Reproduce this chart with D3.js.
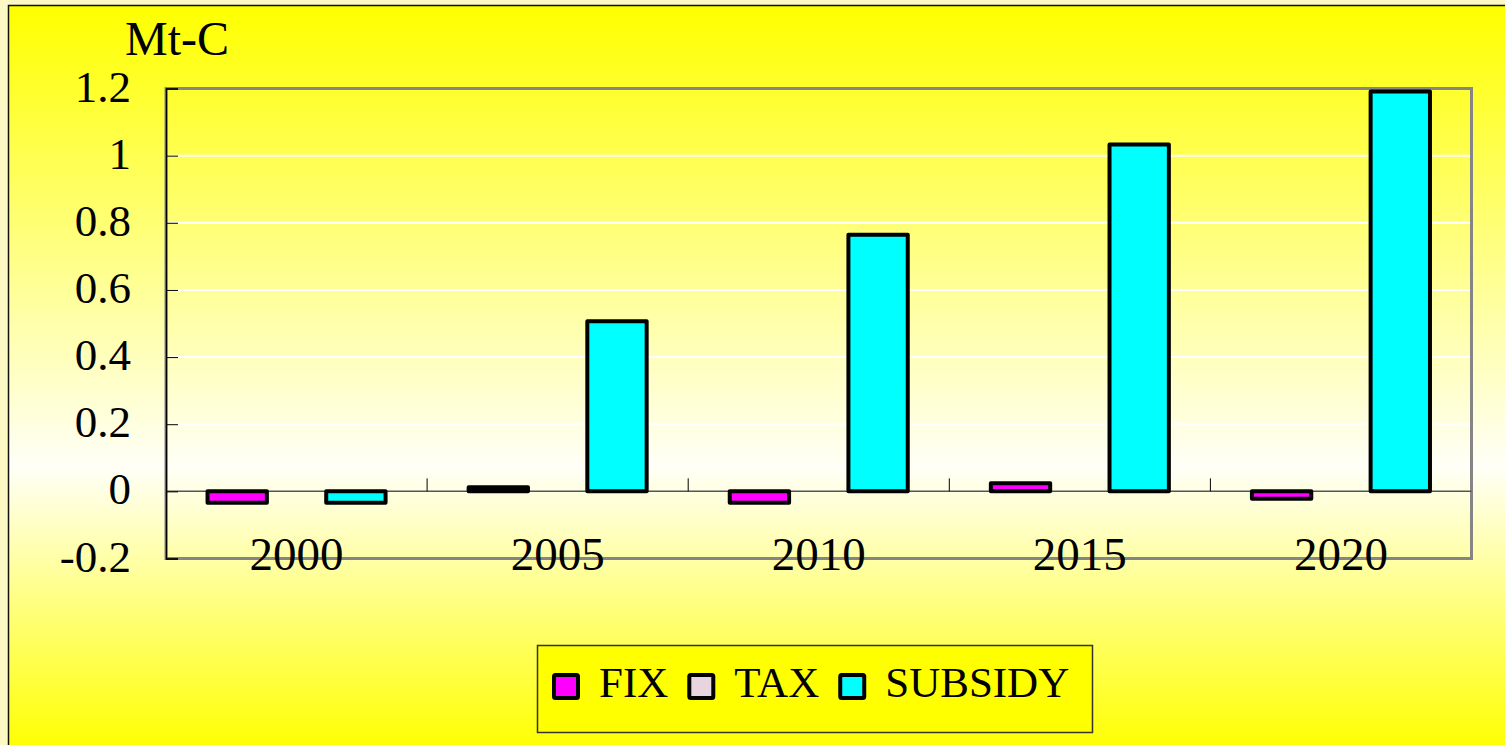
<!DOCTYPE html>
<html lang="en">
<head>
<meta charset="utf-8">
<title>Mt-C</title>
<script src="https://d3js.org/d3.v7.min.js"></script>
<style>
  body { margin: 0; background: #fcf9c4; }
  svg { display: block; }
  text { font-family: "Liberation Serif", "Times New Roman", serif; fill: #000; }
</style>
</head>
<body>
<script>
// data
const years = ["2000", "2005", "2010", "2015", "2020"];
const seriesNames = ["FIX", "TAX", "SUBSIDY"];
const fix = [-0.034, 0.012, -0.034, 0.024, -0.022];
const tax = [0, 0, 0, 0, 0];
const subsidy = [-0.034, 0.507, 0.764, 1.033, 1.191];
const yTicks = [-0.2, 0, 0.2, 0.4, 0.6, 0.8, 1, 1.2];
const colors = ["#ff00ff", "#e8d4e0", "#00ffff"];

const width = 1505, height = 745;
const plot = { left: 166, right: 1471.5, top: 88.5, bottom: 558.5 };

const svg = d3.select("body").append("svg")
  .attr("width", width)
  .attr("height", height);

// background gradient
const grad = svg.append("defs").append("linearGradient")
  .attr("id", "bg").attr("x1", 0).attr("y1", 0).attr("x2", 0).attr("y2", 1);
grad.append("stop").attr("offset", "0%").attr("stop-color", "#ffff00");
grad.append("stop").attr("offset", "62%").attr("stop-color", "#fffff8");
grad.append("stop").attr("offset", "100%").attr("stop-color", "#ffff00");

svg.append("rect")
  .attr("x", 8.5).attr("y", 5.5)
  .attr("width", width).attr("height", height)
  .attr("fill", "url(#bg)")
  .attr("stroke", "#111").attr("stroke-width", 1.5);

// scales
const x = d3.scaleBand().domain(years).range([plot.left, plot.right]).padding(0);
const xs = d3.scaleBand().domain(seriesNames).range([0, x.bandwidth()])
  .paddingInner(0).paddingOuter(0.7);
const y = d3.scaleLinear().domain([-0.2, 1.2]).range([plot.bottom, plot.top]);

// gridlines
svg.append("g").selectAll("line")
  .data(yTicks.filter(d => d > 0 && d < 1.2))
  .join("line")
  .attr("x1", plot.left).attr("x2", plot.right)
  .attr("y1", d => y(d)).attr("y2", d => y(d))
  .attr("stroke", "#ffffff").attr("stroke-width", 2);

// plot frame
svg.append("rect")
  .attr("x", plot.left).attr("y", plot.top)
  .attr("width", plot.right - plot.left).attr("height", plot.bottom - plot.top)
  .attr("fill", "none").attr("stroke", "#858585").attr("stroke-width", 3);

// zero line
svg.append("line")
  .attr("x1", plot.left).attr("x2", plot.right)
  .attr("y1", y(0)).attr("y2", y(0))
  .attr("stroke", "#555").attr("stroke-width", 1.5);

// category tick marks on the zero line
svg.append("g").selectAll("line")
  .data(years.slice(1))
  .join("line")
  .attr("x1", d => x(d)).attr("x2", d => x(d))
  .attr("y1", y(0) - 13).attr("y2", y(0))
  .attr("stroke", "#000").attr("stroke-width", 1);

// y axis
const yAxis = svg.append("g")
  .attr("transform", "translate(" + plot.left + ",0)")
  .call(d3.axisLeft(y).tickValues(yTicks).tickSize(-12).tickPadding(35)
    .tickFormat(d => String(d)));
yAxis.select(".domain").attr("stroke", "#000").attr("stroke-width", 1.5);
yAxis.selectAll(".tick line").attr("stroke", "#000");
yAxis.selectAll("text")
  .attr("font-size", 45).attr("dy", "0.28em")
  .style("font-family", "'Liberation Serif', serif");

// x axis labels
const xAxis = svg.append("g")
  .attr("transform", "translate(0," + plot.bottom + ")")
  .call(d3.axisBottom(x).tickSize(0));
xAxis.select(".domain").remove();
xAxis.selectAll("text")
  .attr("font-size", 47).attr("y", 11.5).attr("dy", 0)
  .style("font-family", "'Liberation Serif', serif");

// bars
const rows = years.map((yr, i) => ({ year: yr, values: [fix[i], tax[i], subsidy[i]] }));
svg.append("g").selectAll("g")
  .data(rows)
  .join("g")
  .attr("transform", d => "translate(" + x(d.year) + ",0)")
  .selectAll("rect")
  .data(d => d.values.map((v, j) => ({ name: seriesNames[j], v: v, c: colors[j] })))
  .join("rect")
  .attr("x", d => xs(d.name))
  .attr("width", xs.bandwidth())
  .attr("y", d => Math.min(y(d.v), y(0)))
  .attr("height", d => Math.abs(y(d.v) - y(0)))
  .attr("fill", d => d.c)
  .attr("stroke", "#000").attr("stroke-width", 4)
  .attr("stroke-linejoin", "round");

// unit label
svg.append("text")
  .attr("x", 125).attr("y", 55)
  .attr("font-size", 48)
  .text("Mt-C");

// legend
const legend = svg.append("g");
legend.append("rect")
  .attr("x", 537.5).attr("y", 645.5).attr("width", 555).attr("height", 87)
  .attr("fill", "#ffff00").attr("stroke", "#333").attr("stroke-width", 1.5);

let lx = 554;
seriesNames.forEach((name, j) => {
  legend.append("rect")
    .attr("x", lx).attr("y", 675).attr("width", 24).attr("height", 23)
    .attr("fill", colors[j]).attr("stroke", "#000").attr("stroke-width", 4)
    .attr("rx", 1.5);
  const t = legend.append("text")
    .attr("x", lx + 45).attr("y", 697)
    .attr("font-size", 43)
    .text(name);
  lx = lx + 45 + t.node().getComputedTextLength() + 21;
});
</script>
</body>
</html>
